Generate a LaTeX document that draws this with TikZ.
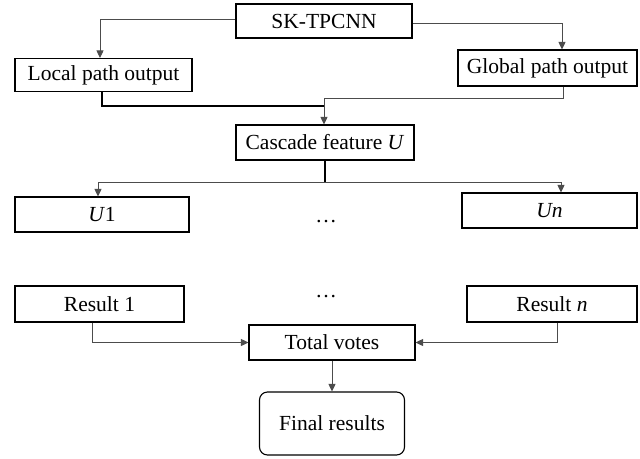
\documentclass[tikz,border=0pt]{standalone}
\usepackage{fontspec}
\setmainfont{Liberation Serif}
\usetikzlibrary{arrows.meta}
\begin{document}
\begin{tikzpicture}[x=1pt,y=-1pt,
  box/.style={draw=black,line width=1.1pt,rectangle,inner sep=0pt,font=\fontsize{21.5}{25}\selectfont},
  conn/.style={draw=black!70,line width=0.9pt},
  arr/.style={conn,-{Triangle[length=7.5pt,width=7pt]}},
  dots/.style={font=\fontsize{21.5}{25}\selectfont,inner sep=0pt}]
\useasboundingbox[fill=white] (0,0) rectangle (640,458);
\node[box,minimum width=176pt,minimum height=34pt] (sk) at (324,21) {SK-TPCNN};
\node[box,minimum width=177pt,minimum height=33pt] (local) at (103.5,75) {Local path output};
\node[box,minimum width=179pt,minimum height=36pt] (global) at (547.5,68) {Global path output};
\node[box,minimum width=178pt,minimum height=35pt] (cascade) at (325,142.5) {Cascade feature \textit{U}};
\node[box,minimum width=174pt,minimum height=35pt] (u1) at (102,214.5) {\textit{U}1};
\node[box,minimum width=175pt,minimum height=35pt] (un) at (549.5,210.5) {\textit{Un}};
\node[dots] (d1) at (326,222) {\dots};
\node[box,minimum width=169pt,minimum height=36pt] (r1) at (99.5,304) {Result 1};
\node[box,minimum width=170pt,minimum height=36pt] (rn) at (552,304) {Result \textit{n}};
\node[dots] (d2) at (326,297) {\dots};
\node[box,minimum width=166pt,minimum height=35pt] (total) at (332,342.5) {Total votes};
\node[box,rounded corners=8pt,minimum width=145pt,minimum height=63pt] (final) at (332,423.5) {Final results};
\coordinate (jA) at (324,106);
\coordinate (jB) at (324,98);
\coordinate (jC) at (325,182);
\draw[arr] ([yshift=2pt]sk.west) -| ([xshift=-3.5pt]local.north);
\draw[arr] ([yshift=-2pt]sk.east) -| ([xshift=14.5pt]global.north);
\draw[conn,draw=black,line width=1.1pt] ([xshift=-1.5pt]local.south) |- (jA);
\draw[conn] ([xshift=15.5pt]global.south) |- (jB);
\draw[arr] (jB) -- (cascade.north -| jB);
\draw[conn,draw=black,line width=1.1pt] (cascade.south) -- (jC);
\draw[arr] (jC) -| ([xshift=-4pt]u1.north);
\draw[arr] (jC) -| ([xshift=11.5pt]un.north);
\draw[arr] ([xshift=-7.5pt]r1.south) |- (total.west);
\draw[arr] ([xshift=5pt]rn.south) |- (total.east);
\draw[arr] (total.south) -- (final.north);
\end{tikzpicture}
\end{document}
